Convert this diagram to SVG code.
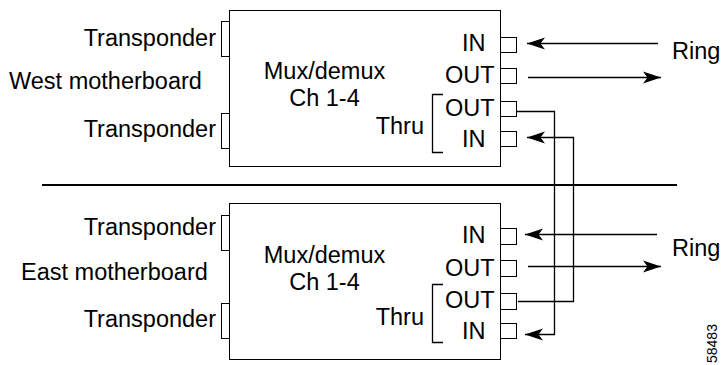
<svg xmlns="http://www.w3.org/2000/svg" width="721" height="365" viewBox="0 0 721 365">
<defs>
<style>
text{font-family:"Liberation Sans",Arial,sans-serif;font-size:23.5px;fill:#000}
.box{fill:#fff;stroke:#000;stroke-width:1}
.port{fill:#fff;stroke:#000;stroke-width:1}
.ln{fill:none;stroke:#000;stroke-width:1.3}
.num{font-size:14px}
</style>
<marker id="ah" viewBox="0 0 18 13" refX="18" refY="6.5" markerWidth="18" markerHeight="13" markerUnits="userSpaceOnUse" orient="auto">
<path d="M0,0.5 L18,6.5 L0,12.5 L4.5,6.5 Z" fill="#000"/>
</marker>
</defs>

<g id="west">
<rect class="box" x="229.5" y="10.5" width="271" height="156"/>
<rect class="box" x="221.5" y="21.5" width="8" height="35"/>
<rect class="box" x="221.5" y="113.5" width="8" height="35"/>
<text x="216" y="46" text-anchor="end">Transponder</text>
<text x="9" y="89">West motherboard</text>
<text x="216" y="137" text-anchor="end">Transponder</text>
<text x="324.5" y="79" text-anchor="middle">Mux/demux</text>
<text x="324.5" y="106" text-anchor="middle">Ch 1-4</text>
<text x="462" y="51">IN</text>
<text x="445" y="83">OUT</text>
<text x="445" y="116">OUT</text>
<text x="462" y="147">IN</text>
<text x="424" y="134" text-anchor="end">Thru</text>
<path class="ln" d="M443,94.5 H432.5 V152.5 H443"/>
<rect class="port" x="500.5" y="37.5" width="16" height="15"/>
<rect class="port" x="500.5" y="68.5" width="16" height="15"/>
<rect class="port" x="500.5" y="101.5" width="16" height="15"/>
<rect class="port" x="500.5" y="131.5" width="16" height="15"/>
</g>

<g id="east">
<rect class="box" x="229.5" y="203.5" width="271" height="156"/>
<rect class="box" x="221.5" y="215.5" width="8" height="35"/>
<rect class="box" x="221.5" y="303.5" width="8" height="35"/>
<text x="216" y="235" text-anchor="end">Transponder</text>
<text x="21" y="280">East motherboard</text>
<text x="216" y="327" text-anchor="end">Transponder</text>
<text x="324.5" y="263" text-anchor="middle">Mux/demux</text>
<text x="324.5" y="290" text-anchor="middle">Ch 1-4</text>
<text x="462" y="243">IN</text>
<text x="445" y="276">OUT</text>
<text x="445" y="308">OUT</text>
<text x="462" y="339">IN</text>
<text x="424" y="325" text-anchor="end">Thru</text>
<path class="ln" d="M443,284.5 H432.5 V342.5 H443"/>
<rect class="port" x="500.5" y="228.5" width="16" height="16"/>
<rect class="port" x="500.5" y="260.5" width="16" height="16"/>
<rect class="port" x="500.5" y="293.5" width="16" height="16"/>
<rect class="port" x="500.5" y="323.5" width="16" height="15"/>
</g>

<g id="labels">
<text x="672" y="59">Ring</text>
<text x="672" y="256">Ring</text>
<text class="num" transform="translate(717,363) rotate(-90)">58483</text>
</g>

<g id="connectors">
<line x1="42" y1="185" x2="677" y2="185" stroke="#000" stroke-width="2.2"/>
<path class="ln" d="M658,43.5 H527" marker-end="url(#ah)"/>
<path class="ln" d="M528,77.5 H661" marker-end="url(#ah)"/>
<path class="ln" d="M657,234.5 H525" marker-end="url(#ah)"/>
<path class="ln" d="M528,266.5 H661" marker-end="url(#ah)"/>
<path class="ln" d="M517,111.5 H554.5 V334.5 H525" marker-end="url(#ah)"/>
<path class="ln" d="M518,301.5 H573.5 V137.5 H527" marker-end="url(#ah)"/>
</g>
</svg>
